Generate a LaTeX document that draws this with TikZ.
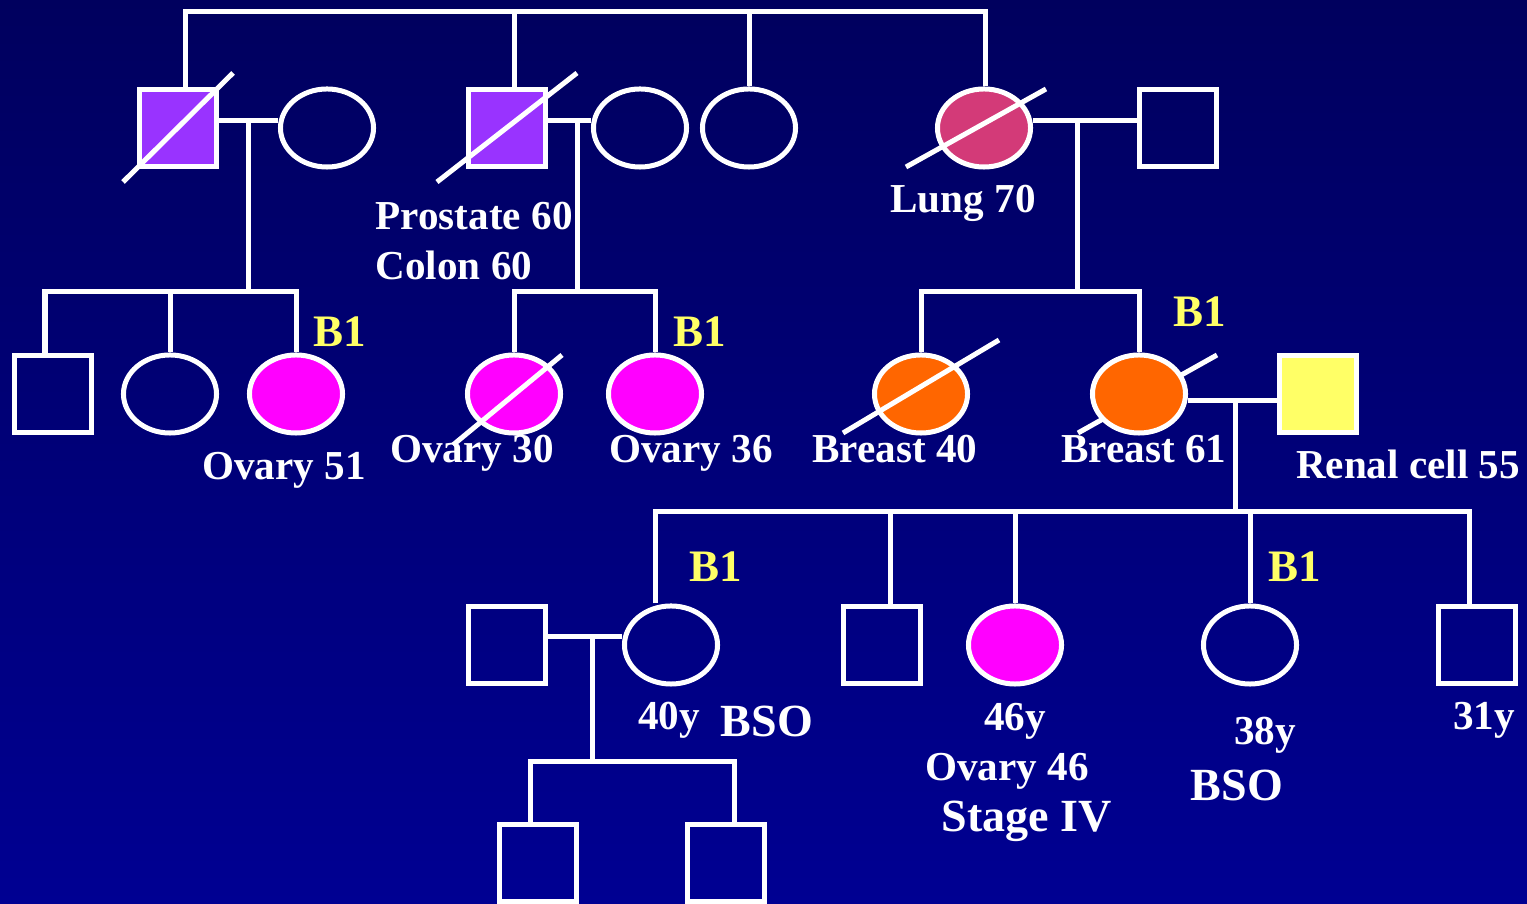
\documentclass[tikz,border=0pt]{standalone}
\usepackage{fontspec}
\setmainfont{Liberation Serif}
\usetikzlibrary{shapes.geometric,calc}
\definecolor{pdnavytop}{RGB}{0,0,94}
\definecolor{pdnavybot}{RGB}{0,0,146}
\definecolor{pdpurple}{RGB}{153,51,255}
\definecolor{pdrose}{RGB}{211,58,120}
\definecolor{pdmagenta}{RGB}{255,0,255}
\definecolor{pdorange}{RGB}{255,102,0}
\definecolor{pdyellow}{RGB}{255,255,102}

\begin{document}
\begin{tikzpicture}[x=0.01cm, y=-0.01cm,
  pedline/.style={draw=white, line width=0.05cm, line join=miter},
  male/.style={rectangle, draw=white, line width=0.05cm,
    minimum size=0.77cm, inner sep=0pt},
  female/.style={ellipse, draw=white, line width=0.05cm,
    minimum width=0.93cm, minimum height=0.78cm, inner sep=0pt},
  dead/.style={draw=white, line width=0.05cm},
  lbl/.style={text=white, inner sep=0pt, anchor=base,
    font=\bfseries\fontsize{11.7}{14}\selectfont},
  lblbig/.style={lbl, font=\bfseries\fontsize{13.1}{15}\selectfont},
  carrier/.style={lbl, text=pdyellow, font=\bfseries\fontsize{12.8}{15}\selectfont}]
% Background
\useasboundingbox (0,0) rectangle (1527,904);
\shade[top color=pdnavytop, bottom color=pdnavybot] (0,0) rectangle (1527,904);
% Generation I
\node[male, fill=pdpurple] (s1) at (178,128) {};
\draw[dead] ($(s1)+(-55,54)$) -- ($(s1)+(55,-55)$);
\node[female] (w1) at (327,128) {};
\node[male, fill=pdpurple] (s2) at (507,128) {};
\draw[dead] ($(s2)+(-70,54)$) -- ($(s2)+(70,-55)$);
\node[female] (w2) at (640,128) {};
\node[female] (a1) at (749,128) {};
\node[female, fill=pdrose] (lung) at (984,128) {};
\draw[dead] ($(lung)+(-78,39)$) -- ($(lung)+(62,-39)$);
\node[male] (h1) at (1178,128) {};
% Generation II
\node[male] (c1) at (53,394) {};
\node[female] (c2) at (170,394) {};
\node[female, fill=pdmagenta] (c3) at (296,394) {};
\node[female, fill=pdmagenta] (c4) at (514,394) {};
\draw[dead] ($(c4)+(-61,51)$) -- ($(c4)+(48,-39)$);
\node[female, fill=pdmagenta] (c5) at (655,394) {};
\node[female, fill=pdorange] (c6) at (921,394) {};
\draw[dead] ($(c6)+(-78,39)$) -- ($(c6)+(78,-54)$);
\coordinate (c7pos) at (1139,394);
\draw[dead] ($(c7pos)+(-61,39)$) -- ($(c7pos)+(78,-39)$);
\node[female, fill=pdorange] (c7) at (c7pos) {};
\node[male, fill=pdyellow] (h2) at (1318,394) {};
% Generation III
\node[male] (h3) at (507,645) {};
\node[female] (d1) at (671,645) {};
\node[male] (d2) at (882,645) {};
\node[female, fill=pdmagenta] (d3) at (1015,645) {};
\node[female] (d4) at (1250,645) {};
\node[male] (d5) at (1477,645) {};
% Generation IV
\node[male] (g1) at (538,863) {};
\node[male] (g2) at (726,863) {};
% Sibship of generation I
\coordinate (k1) at (185,12);
\coordinate (k2) at (514,12);
\coordinate (k3) at (749,12);
\coordinate (k4) at (985,12);
\draw[pedline] (k1 |- s1.north) -- (k1) -- (k4) -- (k4 |- lung.north);
\draw[pedline] (k2) -- (k2 |- s2.north);
\draw[pedline] (k3) -- (a1.north);
% Couples and their children
\coordinate (m1) at (248,121);
\coordinate (b1l) at (45,292);
\coordinate (b1r) at (296,292);
\draw[pedline] (s1.east |- m1) -- (w1.west |- m1);
\draw[pedline] (m1) -- (m1 |- b1l);
\draw[pedline] (b1l |- c1.north) -- (b1l) -- (b1r) -- (c3.north);
\draw[pedline] (c2.north) -- (c2.north |- b1l);
\coordinate (m2) at (577,121);
\coordinate (b2) at (577,292);
\draw[pedline] (s2.east |- m2) -- (w2.west |- m2);
\draw[pedline] (m2) -- (b2);
\draw[pedline] (c4.north) -- (c4.north |- b2) -- (c5.north |- b2) -- (c5.north);
\coordinate (m3) at (1077,121);
\coordinate (b3) at (1077,292);
\draw[pedline] (lung.east |- m3) -- (h1.west |- m3);
\draw[pedline] (m3) -- (b3);
\draw[pedline] (c6.north) -- (c6.north |- b3) -- (c7.north |- b3) -- (c7.north);
\coordinate (m4) at (1235,401);
\coordinate (q1) at (655,512);
\coordinate (q2) at (890,512);
\coordinate (q3) at (1015,512);
\coordinate (q4) at (1250,512);
\coordinate (q5) at (1469,512);
\draw[pedline] (c7.east |- m4) -- (h2.west |- m4);
\draw[pedline] (m4) -- (m4 |- q1);
\draw[pedline] (q1 |- d1.north) -- (q1) -- (q5) -- (q5 |- d5.north);
\draw[pedline] (q2) -- (q2 |- d2.north);
\draw[pedline] (q3) -- (d3.north);
\draw[pedline] (q4) -- (d4.north);
\coordinate (m5) at (592,637);
\coordinate (r1) at (530,762);
\coordinate (r2) at (734,762);
\draw[pedline] (h3.east |- m5) -- (d1.west |- m5);
\draw[pedline] (m5) -- (m5 |- r1);
\draw[pedline] (r1 |- g1.north) -- (r1) -- (r2) -- (r2 |- g2.north);
% Labels
\node[lbl, anchor=base west] (lpr) at (375,230) {Prostate 60};
\node[lbl, anchor=base west] (lco) at (375,280) {Colon 60};
\node[lbl] (llu) at (963,213) {Lung 70};
\node[lbl] (lo51) at (284,480) {Ovary 51};
\node[lbl] (lo30) at (472,463) {Ovary 30};
\node[lbl] (lo36) at (691,463) {Ovary 36};
\node[lbl] (lb40) at (895,463) {Breast 40};
\node[lbl] (lb61) at (1144,463) {Breast 61};
\node[lbl] (lrc) at (1408,479) {Renal cell 55};
\node[carrier] (bc3) at (340,347) {B1};
\node[carrier] (bc5) at (700,347) {B1};
\node[carrier] (bc7) at (1200,327) {B1};
\node[carrier] (bd1) at (716,582) {B1};
\node[carrier] (bd4) at (1295,582) {B1};
\node[lbl] (l40) at (669,730) {40y};
\node[lblbig] (lbso1) at (767,737) {BSO};
\node[lbl] (l46) at (1015,731) {46y};
\node[lbl] (lo46) at (1007,781) {Ovary 46};
\node[lblbig] (lst) at (1027,832) {Stage IV};
\node[lbl] (l38) at (1265,745) {38y};
\node[lblbig] (lbso2) at (1237,801) {BSO};
\node[lbl] (l31) at (1484,730) {31y};
\end{tikzpicture}
\end{document}
